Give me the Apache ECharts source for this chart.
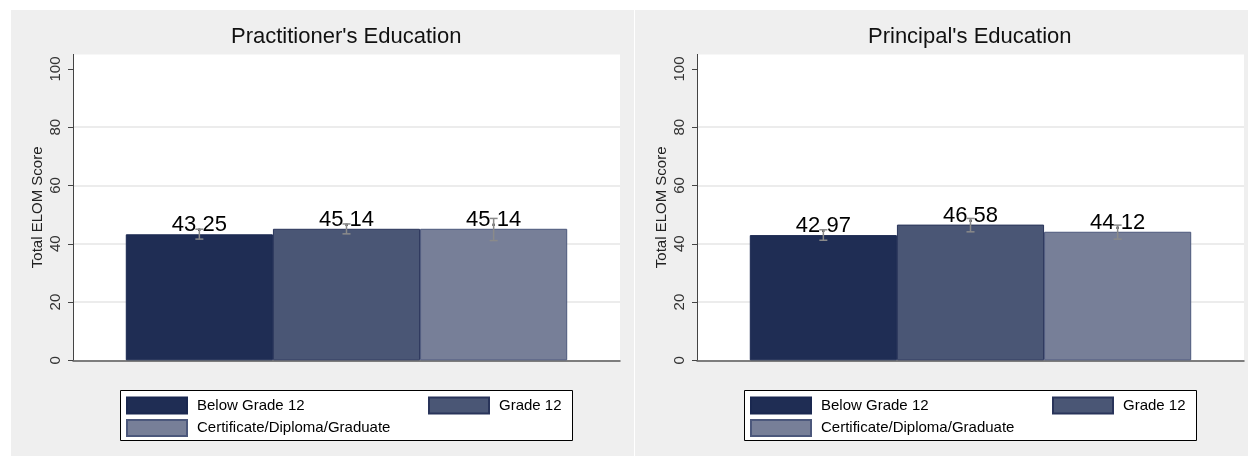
<!DOCTYPE html>
<html>
<head>
<meta charset="utf-8">
<script src="https://cdn.jsdelivr.net/npm/echarts@6/dist/echarts.min.js"></script>
<style>
  html, body { margin: 0; padding: 0; background: #fff; }
  #main { width: 1248px; height: 456px; }
</style>
</head>
<body>
<div id="main"></div>
<script>
// groups (legend entries)
var groups = ['Below Grade 12', 'Grade 12', 'Certificate/Diploma/Graduate'];
var panelTitles = ["Practitioner's Education", "Principal's Education"];
var yTicks = [0, 20, 40, 60, 80, 100];

// mean scores and confidence bounds
var practMean = [43.25, 45.14, 45.14];
var practLow = [41.6, 43.4, 41.1];
var practHigh = [45.0, 46.8, 48.7];

var princMean = [42.97, 46.58, 44.12];
var princLow = [41.2, 44.1, 41.6];
var princHigh = [44.8, 48.7, 46.4];

var fills = ['#1f2d54', '#4a5675', '#777f98'];
var borders = ['#1a2850', '#29345a', '#4c587c'];

var FONT = 'Liberation Sans, Arial, sans-serif';
var BAR_FRAC = 0.269;  // bar width as share of the band
var PANEL_DX = 624;

var chart = echarts.init(document.getElementById('main'));

function errRender(params, api) {
	var idx = api.value(3);
	var lo = api.coord([0, api.value(1)]);
	var hi = api.coord([0, api.value(2)]);
	var band = api.size([1, 0])[0];
	var x = lo[0] + (idx - 1) * band * BAR_FRAC;
	var cap = 4;
	var st = { stroke: '#8a8a8a', lineWidth: 1.5 };
	return {
		type: 'group',
		children: [
			{ type: 'line', shape: { x1: x, y1: lo[1], x2: x, y2: hi[1] }, style: st },
			{ type: 'line', shape: { x1: x - cap, y1: lo[1], x2: x + cap, y2: lo[1] }, style: st },
			{ type: 'line', shape: { x1: x - cap, y1: hi[1], x2: x + cap, y2: hi[1] }, style: st }
		]
	};
}

var grids = [], xAxes = [], yAxes = [], series = [], titles = [], legends = [], graphics = [];

[[practMean, practLow, practHigh], [princMean, princLow, princHigh]].forEach(function(d, p) {
	var dx = p * PANEL_DX;
	graphics.push({
		type: 'rect', z: -10,
		shape: { x: 11 + dx, y: 10, width: 623, height: 446 },
		style: { fill: '#efefef' }
	});
	graphics.push({
		type: 'rect', z: 1,
		shape: { x: 120.5 + dx, y: 390.5, width: 452, height: 50 },
		style: { fill: '#fff', stroke: '#000', lineWidth: 1 }
	});
	titles.push({
		text: panelTitles[p],
		left: [226, 863][p],
		top: 21,
		textStyle: { fontFamily: FONT, fontSize: 22, fontWeight: 'normal', color: '#111' }
	});
	grids.push({
		left: 73 + dx, top: 54.4, width: 547, height: 305.9,
		show: true, backgroundColor: '#fff', borderWidth: 0
	});
	xAxes.push({
		type: 'category', gridIndex: p, data: [''],
		axisLine: { lineStyle: { color: '#5a5a5a', width: 1.5 } },
		axisTick: { show: false }, axisLabel: { show: false }
	});
	yAxes.push({
		type: 'value', gridIndex: p, min: 0, max: 105,
		name: 'Total ELOM Score', nameLocation: 'middle', nameGap: 28,
		nameTextStyle: { fontFamily: FONT, fontSize: 15, color: '#222' },
		axisLine: { show: true, lineStyle: { color: '#444', width: 1 } },
		axisTick: { show: true, length: 5, customValues: yTicks, lineStyle: { color: '#444' } },
		axisLabel: {
			customValues: yTicks, rotate: 90, margin: 10,
			fontFamily: FONT, fontSize: 15, color: '#333'
		},
		splitLine: { show: true, showMaxLine: false, lineStyle: { color: '#e6e6e6', width: 1.5 } }
	});
	groups.forEach(function(g, i) {
		series.push({
			type: 'bar', name: g, xAxisIndex: p, yAxisIndex: p,
			data: [d[0][i]],
			barWidth: (BAR_FRAC * 100) + '%', barGap: '0%',
			itemStyle: { color: fills[i], borderColor: borders[i], borderWidth: 1 },
			label: {
				show: true, position: 'top', distance: -2,
				formatter: function(v) { return v.value.toFixed(2); },
				fontFamily: FONT, fontSize: 22, color: '#000'
			},
			emphasis: { disabled: true }
		});
	});
	series.push({
		type: 'custom', xAxisIndex: p, yAxisIndex: p, z: 3,
		renderItem: errRender,
		encode: { x: 0, y: [1, 2] },
		data: groups.map(function(g, i) { return [0, d[1][i], d[2][i], i]; })
	});
	var slots = [[126, 396.5], [428, 396.5], [126, 419]];
	groups.forEach(function(g, i) {
		legends.push({
			data: [{ name: g, icon: 'rect' }], left: slots[i][0] + dx, top: slots[i][1], padding: 0,
			itemWidth: 60, itemHeight: 16, selectedMode: false,
			textStyle: { fontFamily: FONT, fontSize: 15, color: '#000', padding: [0, 0, 0, 5] }
		});
	});
});

chart.setOption({
	animation: false,
	backgroundColor: '#fff',
	textStyle: { fontFamily: FONT },
	title: titles,
	graphic: graphics,
	grid: grids,
	xAxis: xAxes,
	yAxis: yAxes,
	legend: legends,
	series: series
});
</script>
</body>
</html>
